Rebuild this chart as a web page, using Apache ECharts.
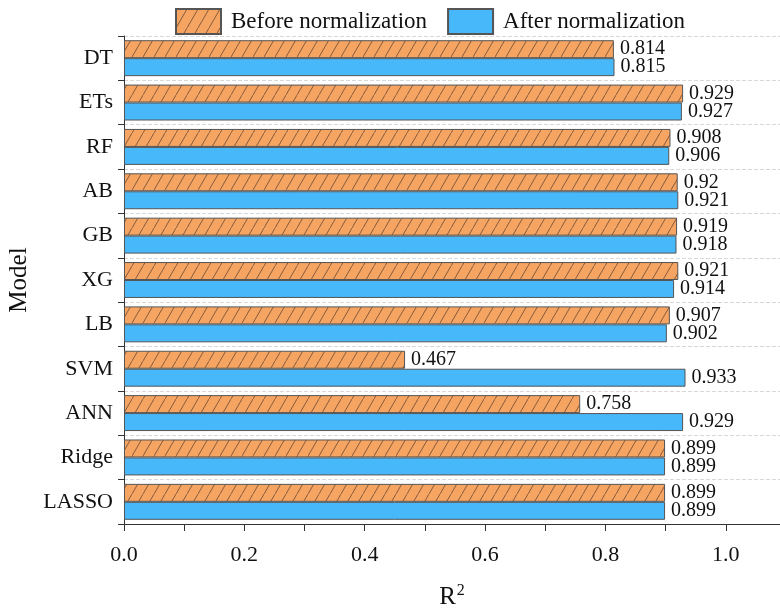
<!DOCTYPE html>
<html>
<head>
<meta charset="utf-8">
<script src="https://cdn.jsdelivr.net/npm/echarts@6/dist/echarts.min.js"></script>
<style>html,body{margin:0;padding:0;background:#fff}#c{width:780px;height:611px}</style>
</head>
<body>
<div id="c"></div>
<script>
const categories = ['DT','ETs','RF','AB','GB','XG','LB','SVM','ANN','Ridge','LASSO'];
const beforeValues = [0.814,0.929,0.908,0.92,0.919,0.921,0.907,0.467,0.758,0.899,0.899];
const afterValues  = [0.815,0.927,0.906,0.921,0.918,0.914,0.902,0.933,0.929,0.899,0.899];
const xTickValues = [0,0.1,0.2,0.3,0.4,0.5,0.6,0.7,0.8,0.9,1.0];
const xLabelValues = [0,0.2,0.4,0.6,0.8,1.0];

const FONT = 'Liberation Serif';
const ORANGE = '#F5A462';
const BLUE = '#47B8FA';

function hatch() {
  const w = 11, h = 19;
  const cv = document.createElement('canvas');
  cv.width = w; cv.height = h;
  const ctx = cv.getContext('2d');
  ctx.fillStyle = ORANGE;
  ctx.fillRect(0,0,w,h);
  ctx.strokeStyle = '#3a2a20';
  ctx.lineWidth = 0.6;
  ctx.beginPath();
  ctx.moveTo(-w, 2*h); ctx.lineTo(2*w, -h);
  ctx.stroke();
  return cv;
}
const pattern = {image: hatch(), repeat: 'repeat'};

const chart = echarts.init(document.getElementById('c'), null, {renderer:'canvas'});
const labelStyle = {show:true, position:'right', distance:6, fontFamily:FONT, fontSize:20, color:'#111'};
chart.setOption({
  animation:false,
  textStyle:{fontFamily:FONT},
  legend:{
    top:3, left:170, itemWidth:45, itemHeight:25, itemGap:20, icon:'rect',
    textStyle:{fontFamily:FONT, fontSize:23, color:'#111', padding:[0,0,0,5]},
    data:['Before normalization','After normalization']
  },
  grid:{left:124, top:36, right:0, bottom:87, containLabel:false, outerBoundsMode:'none'},
  xAxis:{
    type:'value', min:0, max:1.09,
    name:'R{sup|2}', nameLocation:'middle', nameGap:59,
    nameTextStyle:{fontFamily:FONT, fontSize:25, color:'#111', rich:{sup:{fontFamily:FONT, fontSize:16, verticalAlign:'top', padding:[0,0,12,1], color:'#111'}}},
    axisLine:{show:true, lineStyle:{color:'#333', width:1}},
    axisTick:{show:true, length:7, customValues:xTickValues, lineStyle:{color:'#333'}},
    axisLabel:{customValues:xLabelValues, fontFamily:FONT, fontSize:22, color:'#111', margin:20, formatter:v=>v.toFixed(1)},
    splitLine:{show:false}
  },
  yAxis:{
    type:'category', data:categories, inverse:true,
    name:'Model', nameLocation:'middle', nameGap:91,
    nameTextStyle:{fontFamily:FONT, fontSize:25, color:'#111'},
    axisLine:{show:true, lineStyle:{color:'#333', width:1}},
    axisTick:{show:true, length:6, lineStyle:{color:'#333'}},
    axisLabel:{fontFamily:FONT, fontSize:22, color:'#111', margin:11},
    splitLine:{show:true, lineStyle:{color:'#d8d8d8', type:'dashed', width:1}}
  },
  series:[
    {name:'Before normalization', type:'bar', data:beforeValues, barGap:'0%', barCategoryGap:'19%',
     itemStyle:{color:pattern, borderColor:'#555', borderWidth:1},
     label:labelStyle},
    {name:'After normalization', type:'bar', data:afterValues, barGap:'0%', barCategoryGap:'19%',
     itemStyle:{color:BLUE, borderColor:'#555', borderWidth:1},
     label:labelStyle}
  ]
});
</script>
</body>
</html>
